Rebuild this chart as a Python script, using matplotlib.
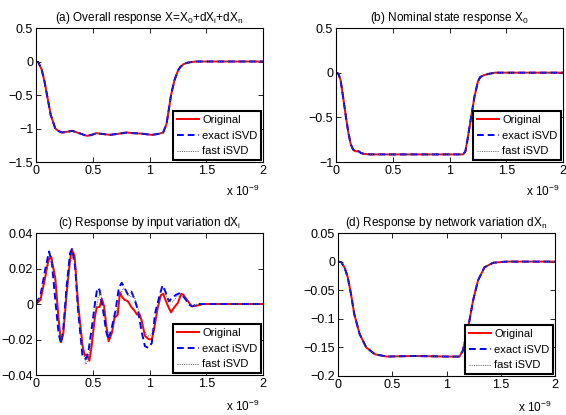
import numpy as np
import matplotlib
matplotlib.use("Agg")
import matplotlib.pyplot as plt

plt.rcParams['font.family'] = ['Liberation Sans', 'DejaVu Sans']
plt.rcParams['mathtext.default'] = 'regular'
plt.rcParams['axes.unicode_minus'] = False

# time axis in units of 1e-9 s
# (a) overall response
t_a = [0, 0.02, 0.05, 0.075, 0.097, 0.13, 0.17, 0.2, 0.23, 0.27, 0.32, 0.38, 0.45, 0.5, 0.53,
       0.58, 0.65, 0.72, 0.8, 0.86, 0.92, 0.97, 1.02, 1.08, 1.12, 1.15, 1.17, 1.19, 1.22,
       1.25, 1.27, 1.3, 1.33, 1.37, 1.41, 1.5, 1.7, 2.0]
y_a = [0, -0.01, -0.12, -0.3, -0.5, -0.8, -1.0, -1.04, -1.06, -1.05, -1.035, -1.07, -1.11,
       -1.09, -1.07, -1.08, -1.095, -1.08, -1.06, -1.07, -1.075, -1.085, -1.095, -1.08, -1.06,
       -0.935, -0.72, -0.5, -0.28, -0.14, -0.085, -0.04, -0.02, -0.008, 0, 0, 0, 0]

# (b) nominal state response X0
t_b = [0, 0.02, 0.04, 0.06, 0.088, 0.11, 0.13, 0.15, 0.17, 0.2, 0.22, 0.25, 0.3, 0.5, 0.8,
       1.0, 1.12, 1.14, 1.16, 1.19, 1.22, 1.25, 1.27, 1.3, 1.34, 1.4, 1.6, 2.0]
y_b = [0, -0.01, -0.08, -0.25, -0.5, -0.68, -0.8, -0.86, -0.88, -0.88, -0.9, -0.91, -0.915,
       -0.915, -0.915, -0.915, -0.915, -0.88, -0.74, -0.5, -0.27, -0.1, -0.05, -0.03, -0.015,
       0, 0, 0]

# (c) response by input variation dXi
t_c_orig = [0, 0.04, 0.08, 0.11, 0.134, 0.17, 0.2, 0.22, 0.24, 0.27, 0.3, 0.317, 0.34, 0.37,
            0.41, 0.43, 0.45, 0.47, 0.49, 0.52, 0.535, 0.56, 0.58, 0.6, 0.62, 0.64, 0.67,
            0.69, 0.72, 0.74, 0.76, 0.78, 0.81, 0.84, 0.87, 0.89, 0.91, 0.93, 0.96, 0.99,
            1.02, 1.04, 1.07, 1.1, 1.12, 1.14, 1.17, 1.19, 1.22, 1.25, 1.28, 1.3, 1.34, 1.37,
            1.41, 1.47, 1.6, 2.0]
y_c_orig = [0, 0.0024, 0.0146, 0.025, 0.0265, 0.0146, -0.009, -0.0216, -0.017, 0.006, 0.025,
            0.0306, 0.027, 0.0006, -0.0234, -0.029, -0.0285, -0.032, -0.024, -0.007, -0.002,
            -0.0017, 0.003, -0.0013, -0.0125, -0.021, -0.016, -0.008, -0.006, 0.0066, 0.0037,
            0.0024, 0.0015, -0.0017, -0.004, -0.006, -0.0054, -0.009, -0.018, -0.0197, -0.02,
            -0.0145, -0.003, 0.005, 0.0058, 0.0024, -0.0022, -0.0047, -0.0017, 0.0006, 0.0058,
            0.005, 0.0015, -0.0013, -0.001, 0, 0, 0]

t_c_exact = [0, 0.04, 0.08, 0.115, 0.14, 0.17, 0.2, 0.22, 0.24, 0.27, 0.3, 0.317, 0.345, 0.37,
             0.41, 0.44, 0.46, 0.49, 0.52, 0.54, 0.56, 0.59, 0.62, 0.64, 0.67, 0.7, 0.73, 0.755,
             0.78, 0.81, 0.84, 0.87, 0.9, 0.93, 0.96, 0.99, 1.02, 1.05, 1.09, 1.115, 1.14, 1.17,
             1.2, 1.23, 1.26, 1.29, 1.32, 1.35, 1.38, 1.42, 1.47, 1.6, 2.0]
y_c_exact = [0, 0.005, 0.019, 0.0296, 0.023, 0.0024, -0.017, -0.022, -0.0144, 0.01, 0.0287,
             0.031, 0.021, -0.003, -0.0295, -0.031, -0.0275, -0.0144, 0.0006, 0.009, 0.008,
             -0.003, -0.016, -0.02, -0.0126, -0.004, 0.009, 0.012, 0.009, 0.0053, 0.007, 0.0024,
             -0.004, -0.0154, -0.0238, -0.0247, -0.022, -0.005, 0.005, 0.0105, 0.007, 0.0015,
             0.0034, 0.005, 0.006, 0.005, 0.0024, -0.0004, -0.0013, 0, 0, 0, 0]

t_c_fast = [0, 0.04, 0.08, 0.12, 0.14, 0.17, 0.2, 0.22, 0.24, 0.27, 0.3, 0.32, 0.34, 0.37, 0.41,
            0.44, 0.46, 0.49, 0.52, 0.55, 0.57, 0.6, 0.63, 0.65, 0.68, 0.71, 0.74, 0.77, 0.8,
            0.83, 0.86, 0.89, 0.92, 0.95, 0.99, 1.02, 1.05, 1.08, 1.11, 1.14, 1.17, 1.2, 1.24,
            1.28, 1.31, 1.35, 1.38, 1.42, 1.6, 2.0]
y_c_fast = [0, 0.004, 0.016, 0.025, 0.024, 0.012, -0.01, -0.02, -0.017, 0.004, 0.022, 0.028,
            0.026, 0.002, -0.025, -0.034, -0.031, -0.02, -0.006, 0.004, 0.006, -0.002, -0.015,
            -0.019, -0.013, -0.004, 0.005, 0.009, 0.007, 0.004, 0.005, 0.0, -0.008, -0.015,
            -0.018, -0.017, -0.01, 0.0, 0.005, 0.006, 0.002, 0.001, 0.004, 0.005, 0.004, 0.001,
            -0.001, 0, 0, 0]

# (d) response by network variation dXn
t_d = [0, 0.03, 0.06, 0.09, 0.12, 0.15, 0.2, 0.26, 0.34, 0.45, 0.7, 1.0, 1.12, 1.15, 1.2,
       1.245, 1.29, 1.35, 1.43, 1.55, 2.0]
y_d = [0, -0.001, -0.01, -0.0275, -0.057, -0.092, -0.127, -0.15, -0.162, -0.166, -0.165,
       -0.166, -0.166, -0.156, -0.115, -0.068, -0.033, -0.01, -0.002, 0, 0]

titles = ['(a) Overall response X=X$_0$+dX$_i$+dX$_n$',
          '(b) Nominal state response X$_0$',
          '(c) Response by input variation dX$_i$',
          '(d) Response by network variation dX$_n$']
labels = ['Original', 'exact iSVD', 'fast iSVD']
xticks = [0, 0.5, 1, 1.5, 2]
yticks = [[-1.5, -1, -0.5, 0, 0.5],
          [-1, -0.5, 0, 0.5],
          [-0.04, -0.02, 0, 0.02, 0.04],
          [-0.2, -0.15, -0.1, -0.05, 0, 0.05]]

series = [
    (t_a, y_a, t_a, y_a, t_a, y_a),
    (t_b, y_b, t_b, y_b, t_b, y_b),
    (t_c_orig, y_c_orig, t_c_exact, y_c_exact, t_c_fast, y_c_fast),
    (t_d, y_d, t_d, y_d, t_d, y_d),
]

W, H = 566, 415
fig = plt.figure(figsize=(W / 100, H / 100), dpi=100)
# axes boxes in pixels: left, top, right, bottom
boxes = [(36, 28, 263, 162), (336, 28, 563, 162), (36, 233, 263, 375), (338, 233, 555, 376)]

for i in range(4):
    l, t, r, b = boxes[i]
    ax = fig.add_axes([l / W, 1 - b / H, (r - l) / W, (b - t) / H])
    to, yo, te, ye, tf, yf = series[i]
    ax.plot(to, yo, color='red', lw=1.4, label=labels[0])
    ax.plot(te, ye, color='blue', lw=1.4, ls=(0, (3.5, 2)), label=labels[1])
    ax.plot(tf, yf, color='0.35', lw=0.7, ls=(0, (1, 1.3)), label=labels[2])
    ax.set_xlim(0, 2)
    ax.set_ylim(yticks[i][0], yticks[i][-1])
    ax.set_xticks(xticks)
    ax.set_xticklabels(['0', '0.5', '1', '1.5', '2'])
    ax.set_yticks(yticks[i])
    ax.set_yticklabels([('%g' % v).replace('-', '\u2212') if v < 0 else '%g' % v for v in yticks[i]])
    ax.tick_params(direction='in', top=True, right=True, length=3.5, width=0.6,
                   labelsize=9, pad=2)
    for s in ax.spines.values():
        s.set_linewidth(0.8)
    ax.set_title(titles[i], fontsize=8.5, pad=5)
    ax.text(0.985, -0.165, r'x 10$^{-9}$', transform=ax.transAxes, ha='right', va='top',
            fontsize=8.5)
    leg = ax.legend(loc='lower right', fontsize=8, fancybox=False, framealpha=1,
                    edgecolor='black', borderaxespad=0.15, handlelength=2.0,
                    handletextpad=0.3, labelspacing=0.5, borderpad=0.35)
    leg.get_frame().set_linewidth(1.5)

fig.savefig('out.png', dpi=100)
